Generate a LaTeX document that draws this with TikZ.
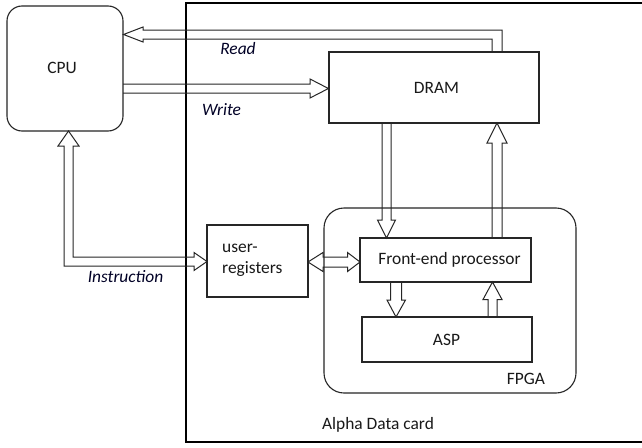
\documentclass[tikz,border=0pt]{standalone}
\usepackage{fontspec}
\setmainfont{Carlito}
\begin{document}
\begin{tikzpicture}[x=1pt,y=-1pt,
  box/.style={draw=black!85,line width=1.1pt,inner sep=0pt},
  blk/.style={draw=black!85,line width=1pt,line join=miter},
  lbl/.style={font=\fontsize{17.4}{21}\selectfont,inner sep=0pt,text=black!90},
  ilbl/.style={font=\fontsize{17.4}{21}\selectfont\itshape,inner sep=0pt,text=black!75!blue!60!black}]
\useasboundingbox (0,0) rectangle (642,447);
\clip (0,0) rectangle (642,447);
\fill[white] (0,0) rectangle (642,447);
% boxes
\node[box,line width=1.2pt,draw=black,minimum width=514pt,minimum height=439pt] (card) at (443,222.5) {};
\node[box,rounded corners=15pt,minimum width=116pt,minimum height=125pt] (cpu) at (65,68.5) {};
\node[box,minimum width=210pt,minimum height=71pt] (dram) at (434,87.5) {};
\node[box,rounded corners=20pt,minimum width=252pt,minimum height=185pt] (fpga) at (450,300.5) {};
\node[box,minimum width=171pt,minimum height=44pt] (fep) at (445.5,260) {};
\node[box,minimum width=170pt,minimum height=45pt] (asp) at (447,339.5) {};
\node[box,minimum width=101pt,minimum height=72pt] (ureg) at (257.5,261) {};
% texts
\node[lbl] (cputxt) at (62,68) {CPU};
\node[lbl] (dramtxt) at (436.5,87.5) {DRAM};
\node[lbl] (feptxt) at (449.5,260) {Front-end processor};
\node[lbl] (asptxt) at (446.5,339.5) {ASP};
\node[lbl,align=left,anchor=west] (uregtxt) at (222,260.5) {user-\\registers};
\node[lbl] (fpgatxt) at (526,379) {FPGA};
\node[lbl] (cardtxt) at (378,425) {Alpha Data card};
\node[ilbl] (readtxt) at (238,49) {Read};
\node[ilbl] (writetxt) at (221.5,110) {Write};
\node[ilbl] (instrtxt) at (125.5,277) {Instruction};
% Read: DRAM -> CPU
\draw[blk] (cpu.east |- 0,34.5) -- (143,27) -- (143,30) -- (502,30) -- (502,52) -- (492,52)
  -- (492,39) -- (143,39) -- (143,42) -- cycle;
% Write: CPU -> DRAM
\draw[blk] (123,84) -- (310,84) -- (310,79) -- (dram.west |- 0,88.5) -- (310,98) -- (310,93) -- (123,93);
% DRAM -> FEP
\draw[blk] (382,123) -- (382,220) -- (377.5,220) -- (386.5,238) -- (395.5,220) -- (391,220) -- (391,123);
% FEP -> DRAM
\draw[blk] (492,238) -- (492,143) -- (487,143) -- (497,123) -- (507,143) -- (502,143) -- (502,238);
% FEP -> ASP
\draw[blk] (390.5,282) -- (390.5,300) -- (387,300) -- (396,317) -- (405.5,300) -- (401.5,300) -- (401.5,282);
% ASP -> FEP
\draw[blk] (488,317) -- (488,299.5) -- (483,299.5) -- (492.5,282) -- (502,299.5) -- (497,299.5) -- (497,317);
% ureg <-> FEP
\draw[blk] (308,262) -- (323,252.5) -- (323,257) -- (347.5,257) -- (347.5,252.5) -- (360,262)
  -- (347.5,271.5) -- (347.5,267) -- (323,267) -- (323,271.5) -- cycle;
% Instruction: CPU <-> user-registers
\draw[blk] (68.5,131) -- (79,146) -- (73,146) -- (73,257) -- (194,257) -- (194,252.5) -- (207,261.5)
  -- (194,270.5) -- (194,266) -- (64,266) -- (64,146) -- (58,146) -- cycle;
\end{tikzpicture}
\end{document}
